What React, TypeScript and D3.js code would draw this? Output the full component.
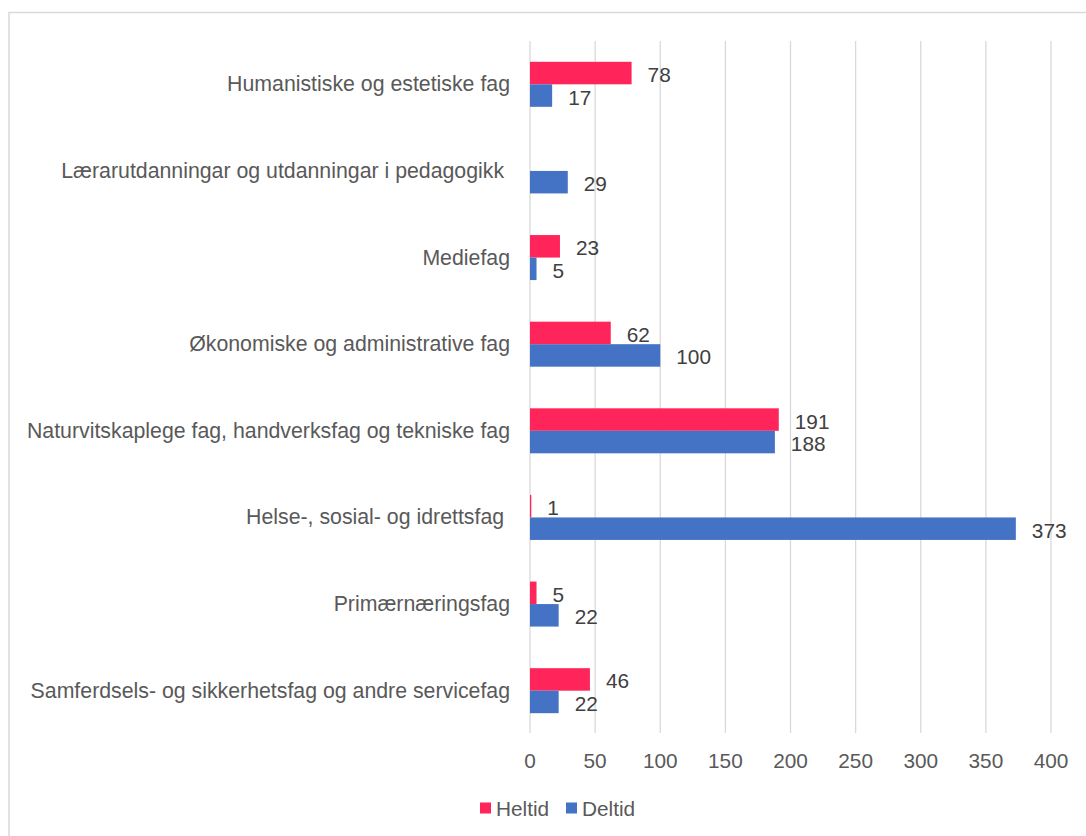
import * as d3 from "d3";
import { useEffect, useRef } from "react";

// categories top to bottom, label text as in the chart (some have trailing space)
const categories = [
  "Humanistiske og estetiske fag",
  "Lærarutdanningar og utdanningar i pedagogikk ",
  "Mediefag",
  "Økonomiske og administrative fag",
  "Naturvitskaplege fag, handverksfag og tekniske fag",
  "Helse-, sosial- og idrettsfag ",
  "Primærnæringsfag",
  "Samferdsels- og sikkerhetsfag og andre servicefag",
];

const heltid: (number | null)[] = [78, null, 23, 62, 191, 1, 5, 46];
const deltid: (number | null)[] = [17, 29, 5, 100, 188, 373, 22, 22];

const seriesNames = ["Heltid", "Deltid"];
const seriesColors = ["#FF2459", "#4472C4"];

const xTicks = [0, 50, 100, 150, 200, 250, 300, 350, 400];

const FONT = "'Liberation Sans', Arial, sans-serif";
const FS = 20.8;
const CAT_FS = 21.3;

const App = () => {
  const ref = useRef<SVGSVGElement>(null);

  useEffect(() => {
    const svg = d3.select(ref.current);
    svg.selectAll("*").remove();

    const x = d3.scaleLinear().domain([0, 400]).range([530, 1051]);
    const y = d3.scaleBand().domain(categories).range([41, 734]);
    const inner = d3.scaleBand().domain(seriesNames).range([-22.5, 22.5]);

    // outer chart border (runs off the right and bottom of the picture)
    svg.append("rect")
      .attr("x", 9)
      .attr("y", 12.5)
      .attr("width", 1200)
      .attr("height", 1000)
      .attr("fill", "none")
      .attr("stroke", "#D9D9D9")
      .attr("stroke-width", 1.5);

    // vertical gridlines
    svg.append("g")
      .selectAll("line")
      .data(xTicks)
      .join("line")
      .attr("x1", (d) => x(d))
      .attr("x2", (d) => x(d))
      .attr("y1", 41)
      .attr("y2", 733)
      .attr("stroke", "#D9D9D9")
      .attr("stroke-width", 1.3);

    // tick labels
    svg.append("g")
      .selectAll("text")
      .data(xTicks)
      .join("text")
      .attr("x", (d) => x(d))
      .attr("y", 760)
      .attr("text-anchor", "middle")
      .attr("dominant-baseline", "central")
      .attr("fill", "#595959")
      .style("font", `${FS}px ${FONT}`)
      .text((d) => d);

    // category labels
    svg.append("g")
      .selectAll("text")
      .data(categories)
      .join("text")
      .attr("x", 510)
      .attr("y", (d) => y(d)! + y.bandwidth() / 2)
      .attr("text-anchor", "end")
      .attr("dominant-baseline", "central")
      .attr("fill", "#595959")
      .attr("xml:space", "preserve")
      .style("white-space", "pre")
      .style("font", `${CAT_FS}px ${FONT}`)
      .text((d) => d);

    const allSeries = [heltid, deltid];
    allSeries.forEach((vals, si) => {
      const rows = categories
        .map((c, i) => ({ c, v: vals[i] }))
        .filter((r) => r.v !== null) as { c: string; v: number }[];
      const g = svg.append("g");
      const yy = (c: string) => y(c)! + y.bandwidth() / 2 + inner(seriesNames[si])!;

      g.selectAll("rect")
        .data(rows)
        .join("rect")
        .attr("x", x(0))
        .attr("y", (d) => yy(d.c))
        .attr("width", (d) => x(d.v) - x(0))
        .attr("height", inner.bandwidth())
        .attr("fill", seriesColors[si]);

      g.selectAll("text")
        .data(rows)
        .join("text")
        .attr("x", (d) => x(d.v) + 16)
        .attr("y", (d) => yy(d.c) + inner.bandwidth() / 2 + 1.5)
        .attr("dominant-baseline", "central")
        .attr("fill", "#404040")
        .style("font", `${FS}px ${FONT}`)
        .text((d) => d.v);
    });

    // legend
    const legendX = [480, 566];
    const lg = svg.append("g");
    seriesNames.forEach((name, i) => {
      lg.append("rect")
        .attr("x", legendX[i])
        .attr("y", 802.5)
        .attr("width", 11)
        .attr("height", 11)
        .attr("fill", seriesColors[i]);
      lg.append("text")
        .attr("x", legendX[i] + 16)
        .attr("y", 808)
        .attr("dominant-baseline", "central")
        .attr("fill", "#595959")
        .style("font", `${FS}px ${FONT}`)
        .text(name);
    });
  }, []);

  return (
    <svg
      ref={ref}
      width={1086}
      height={836}
      style={{ position: "absolute", left: 0, top: 0, background: "#fff" }}
    />
  );
};

export default App;
